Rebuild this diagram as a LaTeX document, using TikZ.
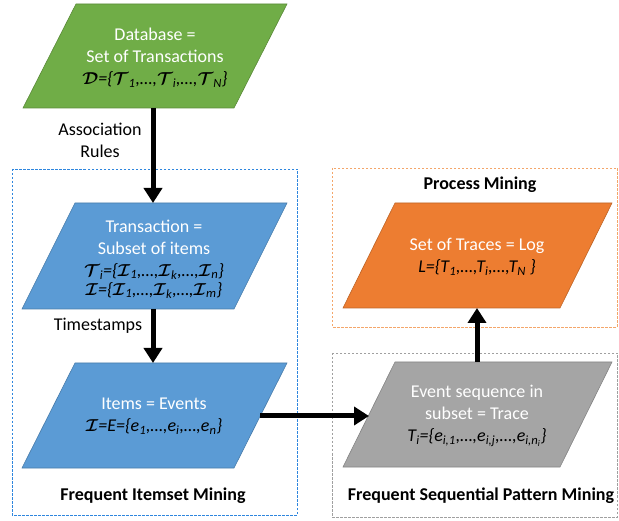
\documentclass[tikz,border=0pt]{standalone}
\usepackage{fontspec}
\setmainfont{Carlito}
\usepackage{amsmath,bm}
\usetikzlibrary{arrows.meta}

\definecolor{dbgreen}{HTML}{70AD47}
\definecolor{itemblue}{HTML}{5B9BD5}
\definecolor{logorange}{HTML}{ED7D31}
\definecolor{seqgray}{HTML}{A5A5A5}
\definecolor{fimframe}{HTML}{2E86DE}
\definecolor{pmframe}{HTML}{F4A66A}
\definecolor{fspframe}{HTML}{A0A0A0}

% bold calligraphic letter and italic subscript helpers
\newcommand\bscr[1]{$\bm{\mathcal{#1}}$}
\newcommand\isub[1]{\textsubscript{#1}}

\tikzset{
  flowbox/.style={fill=#1, draw=#1!80!black, line width=0.6pt},
  bigarrow/.style={line width=5pt, -{Triangle[width=18pt,length=15pt]}},
  framebox/.style={draw=#1, dash pattern=on 2.5pt off 1.5pt, line width=0.7pt},
  boxtext/.style={text=white, align=center, font=\fontsize{18}{22}\selectfont},
  plaintext/.style={align=center, font=\fontsize{18}{22}\selectfont},
  titletext/.style={font=\fontsize{18}{22}\selectfont\bfseries},
}

\begin{document}
\begin{tikzpicture}[x=1pt,y=-1pt]
\useasboundingbox (0,0) rectangle (619,521);

% dashed frames for the three mining areas
\draw[framebox=fimframe] (12,169) rectangle (297,515);
\draw[framebox=pmframe]  (332,168) rectangle (617,327);
\draw[framebox=fspframe] (332,353) rectangle (617,517);

% parallelogram data boxes
\draw[flowbox=dbgreen]   (23,108) -- (234,108) -- (287,4)   -- (76,4)   -- cycle;
\draw[flowbox=itemblue]  (22,309) -- (234,309) -- (287,203) -- (75,203) -- cycle;
\draw[flowbox=itemblue]  (22,468) -- (234,468) -- (287,363) -- (75,363) -- cycle;
\draw[flowbox=logorange] (343,308) -- (560,308) -- (612,203) -- (395,203) -- cycle;
\draw[flowbox=seqgray]   (343,467) -- (560,467) -- (612,362) -- (395,362) -- cycle;

% box contents
\node[boxtext] (db) at (155,58) {Database =\\Set of Transactions\\
  {\color{black}\itshape \bscr{D}=\{\bscr{T}\isub{1},…,\bscr{T}\isub{i},…,\bscr{T}\isub{N}\}}};
\node[boxtext] (tr) at (154,259) {Transaction =\\Subset of items\\
  {\color{black}\itshape \bscr{T}\isub{i}=\{\bscr{I}\isub{1},…,\bscr{I}\isub{k},…,\bscr{I}\isub{n}\}}\\[-3pt]
  {\color{black}\itshape \bscr{I}=\{\bscr{I}\isub{1},…,\bscr{I}\isub{k},…,\bscr{I}\isub{m}\}}};
\node[boxtext] (ev) at (154,416) {Items = Events\\
  {\color{black}\itshape \bscr{I}=E=\{e\isub{1},…,e\isub{i},…,e\isub{n}\}}};
\node[boxtext] (lg) at (477,257) {Set of Traces = Log\\
  {\color{black}\itshape L=\{T\isub{1},…,T\isub{i},…,T\isub{N} \}}};
\node[boxtext] (sq) at (477,416) {Event sequence in\\subset = Trace\\
  {\color{black}\itshape T\isub{i}=\{e\isub{i,1},…,e\isub{i,j},…,e\isub{i,n\textsubscript{i}}\}}};

% edge labels and frame titles
\node[plaintext] (assoc) at (100,140) {Association\\Rules};
\node[plaintext] (tstamp) at (98,326) {Timestamps};
\node[titletext] (pm)  at (480,185) {Process Mining};
\node[titletext] (fim) at (153,496) {Frequent Itemset Mining};
\node[titletext] (fsp) at (481,496) {Frequent Sequential Pattern Mining};

% connection points on the box edges
\coordinate (dbB) at (153,108);
\coordinate (trT) at (153,203);
\coordinate (trB) at (153,309);
\coordinate (evT) at (153,363);
\coordinate (evR) at (260,416);
\coordinate (sqL) at (369,416);
\coordinate (sqT) at (477,362);
\coordinate (lgB) at (477,308);

% arrows
\draw[bigarrow] (dbB) -- (trT);
\draw[bigarrow] (trB) -- (evT);
\draw[bigarrow] (evR) -- (sqL);
\draw[bigarrow] (sqT) -- (lgB);
\end{tikzpicture}
\end{document}
